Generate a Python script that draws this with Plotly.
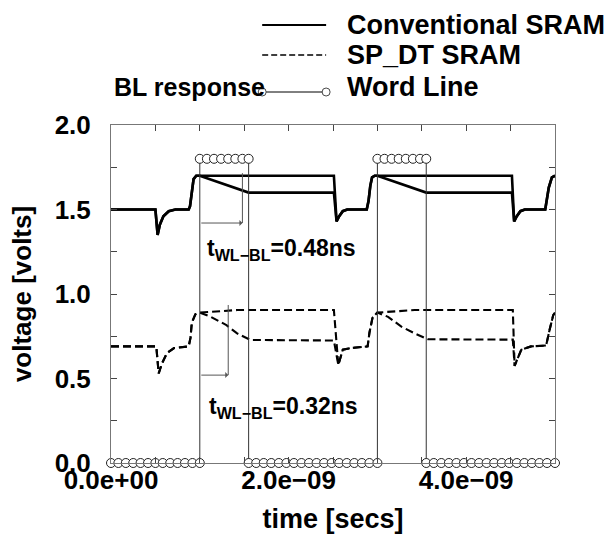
import numpy as np
import plotly.graph_objects as go

# ---------------- data (time in ns, voltage in V) ----------------
conv_t = [0, 0.50, 0.525, 0.55, 0.59, 0.65, 0.725, 0.875, 0.89, 0.91, 0.93, 0.96, 1.00,
          1.55, 2.51, 2.54, 2.57, 2.61, 2.66, 2.88, 2.90, 2.92, 2.94, 2.97, 3.00,
          3.55, 4.515, 4.54, 4.57, 4.61, 4.66, 4.89, 4.91, 4.93, 4.965, 5.00]
conv_hi = [1.50, 1.50, 1.35, 1.41, 1.46, 1.49, 1.50, 1.50, 1.52, 1.62, 1.68, 1.70, 1.70,
           1.70, 1.70, 1.43, 1.46, 1.49, 1.50, 1.50, 1.55, 1.64, 1.69, 1.70, 1.70,
           1.70, 1.70, 1.43, 1.46, 1.49, 1.50, 1.50, 1.56, 1.63, 1.69, 1.70]
conv_lo = [1.50, 1.50, 1.35, 1.41, 1.46, 1.49, 1.50, 1.50, 1.52, 1.62, 1.68, 1.70, 1.70,
           1.60, 1.60, 1.43, 1.46, 1.49, 1.50, 1.50, 1.55, 1.64, 1.69, 1.70, 1.70,
           1.60, 1.60, 1.43, 1.46, 1.49, 1.50, 1.50, 1.56, 1.63, 1.69, 1.70]

sp_t = [0, 0.51, 0.537, 0.575, 0.63, 0.71, 0.875, 0.895, 0.91, 0.95,
        1.00, 1.12, 1.30, 1.42, 1.57, 2.51, 2.56, 2.61, 2.70, 2.89,
        2.91, 2.945, 3.00, 3.12, 3.27, 3.42, 3.57, 4.525, 4.545, 4.62,
        4.73, 4.90, 4.94, 4.98, 5.00]
sp_hi = [0.69, 0.69, 0.53, 0.59, 0.65, 0.68, 0.69, 0.74, 0.83, 0.88,
         0.89, 0.895, 0.90, 0.905, 0.905, 0.905, 0.58, 0.67, 0.68, 0.69,
         0.77, 0.86, 0.89, 0.895, 0.90, 0.905, 0.905, 0.905, 0.575, 0.67,
         0.69, 0.695, 0.79, 0.875, 0.89]
sp_lo = [0.69, 0.69, 0.53, 0.59, 0.65, 0.68, 0.69, 0.74, 0.83, 0.88,
         0.89, 0.866, 0.816, 0.767, 0.728, 0.725, 0.58, 0.67, 0.68, 0.69,
         0.77, 0.86, 0.89, 0.865, 0.807, 0.767, 0.732, 0.73, 0.575, 0.67,
         0.69, 0.695, 0.79, 0.875, 0.89]

wl_t = [0, 0.083, 0.167, 0.25, 0.333, 0.417, 0.5, 0.583, 0.667, 0.75, 0.833, 0.917, 1.0,
        1.0, 1.08, 1.16, 1.24, 1.32, 1.40, 1.48, 1.55,
        1.55, 1.635, 1.72, 1.805, 1.89, 1.975, 2.06, 2.145, 2.23, 2.315, 2.40, 2.485,
        2.57, 2.655, 2.74, 2.825, 2.91, 3.0,
        3.0, 3.08, 3.16, 3.24, 3.32, 3.40, 3.48, 3.55,
        3.55, 3.635, 3.72, 3.805, 3.89, 3.975, 4.06, 4.145, 4.23, 4.315, 4.40, 4.485,
        4.57, 4.655, 4.74, 4.825, 4.91, 5.0]
wl_v = [0, 0, 0, 0, 0, 0, 0, 0, 0, 0, 0, 0, 0,
        1.8, 1.8, 1.8, 1.8, 1.8, 1.8, 1.8, 1.8,
        0, 0, 0, 0, 0, 0, 0, 0, 0, 0, 0, 0,
        0, 0, 0, 0, 0, 0,
        1.8, 1.8, 1.8, 1.8, 1.8, 1.8, 1.8, 1.8,
        0, 0, 0, 0, 0, 0, 0, 0, 0, 0, 0, 0,
        0, 0, 0, 0, 0, 0]

x_tickvals_ns = [0, 0.5, 1.0, 1.5, 2.0, 2.5, 3.0, 3.5, 4.0, 4.5, 5.0]
x_ticktext = ["0.0e+00", "", "", "", "2.0e\u221209", "", "", "", "4.0e\u221209", "", ""]
y_tickvals = [0, 0.25, 0.5, 0.75, 1.0, 1.25, 1.5, 1.75, 2.0]
y_ticktext = ["0.0", "", "0.5", "", "1.0", "", "1.5", "", "2.0"]

# delay annotations: (start ns, end ns, arrow level V, guide top V, label)
delay_start = [1.0, 1.0]
delay_end = [1.48, 1.32]
delay_level = [1.42, 0.52]
delay_top = [1.715, 0.935]
delay_label = ["t<sub>WL\u2212BL</sub>=0.48ns", "t<sub>WL\u2212BL</sub>=0.32ns"]
label_pos = [(1.064, 1.265), (1.083, 0.33)]

legend_names = ["Conventional SRAM", "SP_DT SRAM", "Word Line"]

ns = 1e-9
FONT = "Liberation Sans, Arial, Helvetica, sans-serif"

fig = go.Figure()
fig.add_trace(go.Scatter(x=np.array(conv_t) * ns, y=conv_hi, mode="lines",
                         line=dict(color="black", width=2.6), showlegend=False))
fig.add_trace(go.Scatter(x=np.array(conv_t) * ns, y=conv_lo, mode="lines",
                         line=dict(color="black", width=2.6), showlegend=False))
fig.add_trace(go.Scatter(x=np.array(sp_t) * ns, y=sp_hi, mode="lines",
                         line=dict(color="black", width=2.1, dash="8px,4px"), showlegend=False))
fig.add_trace(go.Scatter(x=np.array(sp_t) * ns, y=sp_lo, mode="lines",
                         line=dict(color="black", width=2.1, dash="8px,4px"), showlegend=False))
fig.add_trace(go.Scatter(x=np.array(wl_t) * ns, y=wl_v, mode="lines+markers",
                         line=dict(color="#333", width=1),
                         marker=dict(symbol="circle", size=9, color="white",
                                     line=dict(color="#222", width=1)),
                         cliponaxis=False, showlegend=False))

shapes = []
annotations = []
for s, e, lv, top, lab, (lx, ly) in zip(delay_start, delay_end, delay_level, delay_top,
                                        delay_label, label_pos):
    shapes.append(dict(type="line", xref="x", yref="y", x0=e * ns, x1=e * ns, y0=lv, y1=top,
                       line=dict(color="#555", width=1)))
    annotations.append(dict(x=e * ns, y=lv, ax=s * ns, ay=lv, xref="x", yref="y",
                            axref="x", ayref="y", text="", showarrow=True,
                            arrowhead=1, arrowsize=1, arrowwidth=1, arrowcolor="#555"))
    annotations.append(dict(x=lx * ns, y=ly, xref="x", yref="y", text=lab, showarrow=False,
                            xanchor="left", yanchor="middle",
                            font=dict(family=FONT, size=23, color="black", weight="bold")))

# custom legend (paper coordinates)
leg_x0, leg_x1, leg_tx = 0.3405, 0.4845, 0.527
leg_rows = [1.2959, 1.2071, 1.1124]
leg_line_y = [1.2959, 1.2071, 1.0976]
leg_dash = ["solid", "6px,3px", "solid"]
leg_w = [2, 1.6, 1]
for name, ty, ly, d, w in zip(legend_names, leg_rows, leg_line_y, leg_dash, leg_w):
    shapes.append(dict(type="line", xref="paper", yref="paper", x0=leg_x0, x1=leg_x1,
                       y0=ly, y1=ly, line=dict(color="black", width=w, dash=d)))
    annotations.append(dict(x=leg_tx, y=ty, xref="paper", yref="paper", text=name,
                            showarrow=False, xanchor="left", yanchor="middle",
                            font=dict(family=FONT, size=27, color="black", weight="bold")))
for cx in (leg_x0, leg_x1):
    shapes.append(dict(type="circle", xref="paper", yref="paper", xsizemode="pixel",
                       ysizemode="pixel", xanchor=cx, yanchor=leg_line_y[2],
                       x0=-4, x1=4, y0=-4, y1=4, fillcolor="white",
                       line=dict(color="#333", width=0.9)))
annotations.append(dict(x=0.002, y=1.112, xref="paper", yref="paper", text="BL response",
                        showarrow=False, xanchor="left", yanchor="middle",
                        font=dict(family=FONT, size=25, color="black", weight="bold")))

axis_common = dict(showgrid=False, zeroline=False, showline=True, linecolor="#777",
                   linewidth=1, mirror="ticks", ticks="inside", ticklen=6,
                   tickcolor="#444", tickwidth=1, automargin=False,
                   tickfont=dict(family=FONT, size=26, color="black", weight="bold"))

fig.update_layout(
    width=611, height=538,
    margin=dict(l=111, r=56, t=125, b=75),
    paper_bgcolor="white", plot_bgcolor="white",
    showlegend=False,
    shapes=shapes, annotations=annotations,
    xaxis=dict(range=[0, 5 * ns], tickmode="array",
               tickvals=[v * ns for v in x_tickvals_ns], ticktext=x_ticktext,
               ticklabelstandoff=-6, tickangle=0,
               title=dict(text="time [secs]", standoff=14,
                          font=dict(family=FONT, size=27, color="black", weight="bold")),
               **axis_common),
    yaxis=dict(range=[0, 2.0], tickmode="array", tickvals=y_tickvals, ticktext=y_ticktext,
               ticklabelstandoff=14,
               title=dict(text="voltage [volts]", standoff=15,
                          font=dict(family=FONT, size=26, color="black", weight="bold")),
               **axis_common),
)

fig.write_html("out.html")
